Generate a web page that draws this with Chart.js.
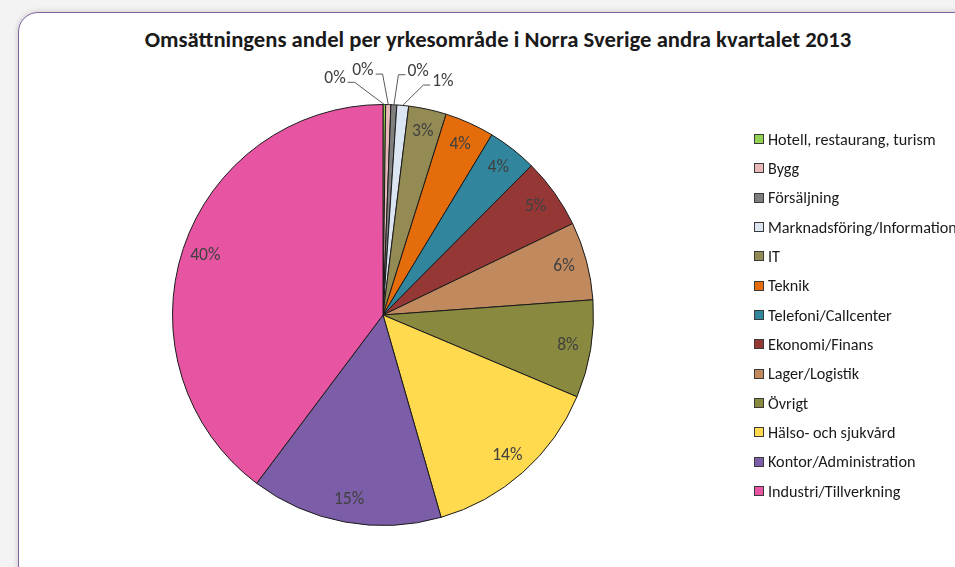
<!DOCTYPE html>
<html>
<head>
<meta charset="utf-8">
<script src="https://cdn.jsdelivr.net/npm/chart.js@4"></script>
<style>
  html, body { margin:0; padding:0; }
  body { width:955px; height:567px; overflow:hidden; background:#f3f3f3; position:relative; font-family: Carlito, Lato, "Open Sans", sans-serif; }
  #frame { position:absolute; left:18px; top:12px; width:1000px; height:620px; background:#fff; border:1.5px solid #8064A2; border-radius:20px; box-shadow:0 0 6px rgba(0,0,0,0.18); }
  #title { position:absolute; left:0; width:996px; top:25px; text-align:center; font-weight:bold; font-size:22.7px; color:#1a1a1a; white-space:nowrap; }
  #chart { position:absolute; left:0; top:0; }
  #legend { position:absolute; left:754px; top:124.5px; font-size:16.2px; color:#1a1a1a; white-space:nowrap; }
  .item { height:29.33px; display:flex; align-items:center; }
  .sw { width:8px; height:8px; border:1px solid #3a3a3a; margin-right:4px; flex:none; }
</style>
</head>
<body>
<div id="frame"></div>
<div id="title">Omsättningens andel per yrkesområde i Norra Sverige andra kvartalet 2013</div>
<canvas id="chart" width="955" height="567"></canvas>
<div id="legend"></div>
<script>
const categories = [
  "Hotell, restaurang, turism", "Bygg", "Försäljning", "Marknadsföring/Information",
  "IT", "Teknik", "Telefoni/Callcenter", "Ekonomi/Finans", "Lager/Logistik",
  "Övrigt", "Hälso- och sjukvård", "Kontor/Administration", "Industri/Tillverkning"
];
const values = [0.2, 0.4, 0.45, 0.9, 2.9, 3.8, 3.8, 5.4, 6.0, 7.5, 14.2, 14.7, 39.75];
const colors = [
  "#92D050", "#E6B9B8", "#7F7F7F", "#DCE6F2", "#948A54", "#E46C0A", "#31859C",
  "#953735", "#C0895E", "#898A40", "#FFDA4F", "#7B5DA8", "#E755A2"
];
// outside-label placement (angle from 12 o'clock in degrees, radius factor)
const outsidePlacement = {
  0: { angle: -11.5, r: 1.145, side: 'left' },
  1: { angle: -4.7,  r: 1.165, side: 'left' },
  2: { angle: 8.2,   r: 1.17,  side: 'right' },
  3: { angle: 14.4,  r: 1.145, side: 'right' }
};

const labelPlugin = {
  id: 'pctLabels',
  afterDatasetsDraw(chart) {
    const ctx = chart.ctx;
    const meta = chart.getDatasetMeta(0);
    ctx.save();
    ctx.font = '17.5px Carlito, Lato, sans-serif';
    ctx.fillStyle = '#404040';
    ctx.textAlign = 'center';
    ctx.textBaseline = 'middle';
    meta.data.forEach((arc, i) => {
      const p = arc.getProps(['x','y','startAngle','endAngle','outerRadius'], true);
      const mid = (p.startAngle + p.endAngle) / 2;
      const text = Math.round(values[i]) + '%';
      const o = outsidePlacement[i];
      if (o) {
        const a = o.angle * Math.PI / 180 - Math.PI / 2;
        const lx = p.x + Math.cos(a) * o.r * p.outerRadius;
        const ly = p.y + Math.sin(a) * o.r * p.outerRadius;
        ctx.fillText(text, lx, ly);
        const w = ctx.measureText(text).width;
        const ex = p.x + Math.cos(mid) * p.outerRadius;
        const ey = p.y + Math.sin(mid) * p.outerRadius;
        const sx = o.side === 'left' ? lx + w / 2 + 2 : lx - w / 2 - 2;
        const elx = o.side === 'left' ? sx + 7 : sx - 7;
        const yy = ly + 3.5;
        ctx.beginPath();
        ctx.strokeStyle = '#5a5a5a';
        ctx.lineWidth = 1;
        ctx.moveTo(sx, yy);
        ctx.lineTo(elx, yy);
        ctx.lineTo(ex, ey);
        ctx.stroke();
      } else {
        ctx.fillText(text, p.x + Math.cos(mid) * 0.89 * p.outerRadius, p.y + Math.sin(mid) * 0.89 * p.outerRadius);
      }
    });
    ctx.restore();
  }
};

new Chart(document.getElementById('chart'), {
  type: 'pie',
  data: {
    labels: categories,
    datasets: [{
      data: values,
      backgroundColor: colors,
      borderColor: '#1a1a1a',
      borderWidth: 1
    }]
  },
  options: {
    responsive: false,
    animation: false,
    devicePixelRatio: 1,
    layout: { padding: { left: 172, right: 361, top: 104, bottom: 41 } },
    plugins: { legend: { display: false }, tooltip: { enabled: false }, title: { display: false } }
  },
  plugins: [labelPlugin]
});

const legend = document.getElementById('legend');
categories.forEach((c, i) => {
  const d = document.createElement('div');
  d.className = 'item';
  d.innerHTML = '<span class="sw" style="background:' + colors[i] + '"></span><span>' + c + '</span>';
  legend.appendChild(d);
});
</script>
</body>
</html>
